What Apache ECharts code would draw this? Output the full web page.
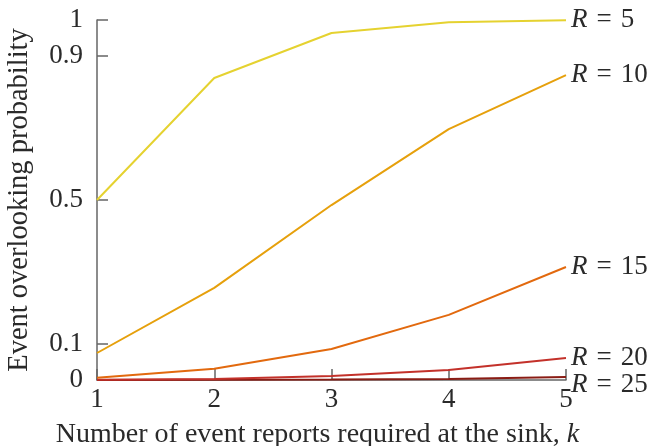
<!DOCTYPE html>
<html><head><meta charset="utf-8">
<script src="https://cdn.jsdelivr.net/npm/echarts@6/dist/echarts.min.js"></script>
<style>html,body{margin:0;padding:0;background:#fff}#c{width:656px;height:446px}</style>
</head><body><div id="c"></div>
<script>
const ks = [1, 2, 3, 4, 5];
const R5 = [0.5, 0.839, 0.964, 0.994, 0.999];
const R10 = [0.075, 0.256, 0.486, 0.697, 0.847];
const R15 = [0.006, 0.031, 0.086, 0.181, 0.314];
const R20 = [0.001, 0.003, 0.011, 0.028, 0.061];
const R25 = [0.0, 0.0005, 0.0015, 0.003, 0.008];
const seriesNames = ['5', '10', '15', '20', '25'];
const seriesData = [R5, R10, R15, R20, R25];
const colors = ['#e5d230', '#e6a00c', '#e2690e', '#c3312a', '#8a1c14'];
const yTicks = [0, 0.1, 0.5, 0.9, 1];
const xTicks = [1, 2, 3, 4, 5];
const FONT = 'Liberation Serif';
const TXT = '#2a2a2a';

const chart = echarts.init(document.getElementById('c'));
chart.setOption({
  animation: false,
  grid: {left: 97, right: 90, top: 20, bottom: 66, containLabel: false, outerBoundsMode: 'none'},
  xAxis: {
    type: 'value', min: 1, max: 5, interval: 1,
    name: 'Number of event reports required at the sink, {i|k}',
    nameLocation: 'middle', nameGap: 41,
    nameTextStyle: {fontFamily: FONT, fontSize: 28, color: TXT, padding: [0, 28, 0, 0],
      rich: {i: {fontFamily: FONT, fontStyle: 'italic', fontSize: 28, color: TXT}}},
    axisLine: {lineStyle: {color: '#666', width: 1.5}},
    axisTick: {inside: true, length: 11, lineStyle: {color: '#666', width: 1.5}, customValues: xTicks},
    axisLabel: {fontFamily: FONT, fontSize: 27, color: TXT, margin: 6, customValues: xTicks},
    splitLine: {show: false}
  },
  yAxis: {
    type: 'value', min: 0, max: 1,
    name: 'Event overlooking probability',
    nameLocation: 'middle', nameGap: 63, nameRotate: 90,
    nameTextStyle: {fontFamily: FONT, fontSize: 28.5, color: TXT},
    axisLine: {lineStyle: {color: '#666', width: 1.5}},
    axisTick: {inside: true, length: 11, lineStyle: {color: '#666', width: 1.5}, customValues: yTicks},
    axisLabel: {fontFamily: FONT, fontSize: 27, color: TXT, margin: 14, customValues: yTicks},
    splitLine: {show: false}
  },
  series: seriesData.map((d, i) => ({
    type: 'line', name: 'R = ' + seriesNames[i],
    data: d.map((v, j) => [ks[j], v]),
    showSymbol: false, symbol: 'none',
    lineStyle: {color: colors[i], width: 2},
    itemStyle: {color: colors[i]},
    z: 10 - i,
    endLabel: {
      show: true, distance: 5,
      formatter: '{i|R}{e|=}' + seriesNames[i],
      fontFamily: FONT, fontSize: 27, color: TXT,
      rich: {
        i: {fontFamily: FONT, fontStyle: 'italic', fontSize: 27, color: TXT},
        e: {fontFamily: FONT, fontSize: 27, color: TXT, padding: [0, 9, 0, 9]}
      }
    },
    labelLayout: {moveOverlap: 'shiftY'}
  }))
});
</script></body></html>
